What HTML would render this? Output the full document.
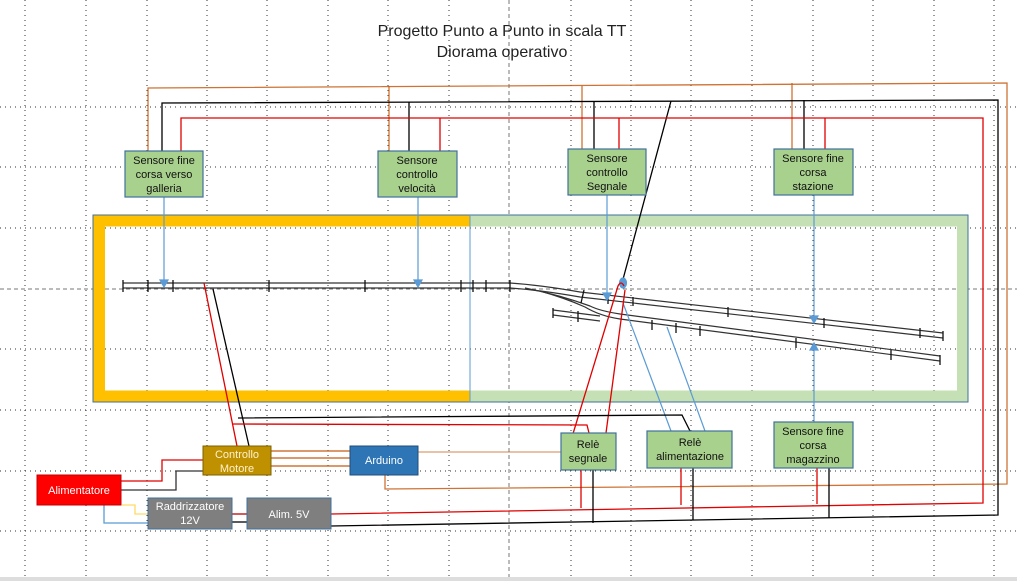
<!DOCTYPE html>
<html><head><meta charset="utf-8"><style>
html,body{margin:0;padding:0;background:#fff;}
svg{display:block;}
text{font-family:"Liberation Sans",sans-serif;}
</style></head><body>
<svg width="1017" height="581" viewBox="0 0 1017 581" xmlns="http://www.w3.org/2000/svg">
<rect width="1017" height="581" fill="#fff"/>
<!-- grid -->
<g stroke="#000" stroke-width="1" stroke-dasharray="1,4" opacity="0.8">
<line x1="25" y1="0" x2="25" y2="577"/><line x1="86" y1="0" x2="86" y2="577"/><line x1="147" y1="0" x2="147" y2="577"/><line x1="207" y1="0" x2="207" y2="577"/><line x1="267" y1="0" x2="267" y2="577"/><line x1="328" y1="0" x2="328" y2="577"/><line x1="388" y1="0" x2="388" y2="577"/><line x1="449" y1="0" x2="449" y2="577"/><line x1="571" y1="0" x2="571" y2="577"/><line x1="631" y1="0" x2="631" y2="577"/><line x1="691" y1="0" x2="691" y2="577"/><line x1="752" y1="0" x2="752" y2="577"/><line x1="813" y1="0" x2="813" y2="577"/><line x1="873" y1="0" x2="873" y2="577"/><line x1="934" y1="0" x2="934" y2="577"/><line x1="994" y1="0" x2="994" y2="577"/>
<line x1="0" y1="107" x2="1017" y2="107"/><line x1="0" y1="167" x2="1017" y2="167"/><line x1="0" y1="228" x2="1017" y2="228"/><line x1="0" y1="349" x2="1017" y2="349"/><line x1="0" y1="410" x2="1017" y2="410"/><line x1="0" y1="471" x2="1017" y2="471"/><line x1="0" y1="531" x2="1017" y2="531"/>
</g>
<g stroke="#777" stroke-width="1" stroke-dasharray="4,3">
<line x1="0" y1="289" x2="1017" y2="289"/><line x1="509" y1="0" x2="509" y2="577"/>
</g>
<rect x="0" y="577" width="1017" height="4" fill="#ddd"/>
<text x="502" y="36" font-size="16" text-anchor="middle" fill="#222">Progetto Punto a Punto in scala TT</text>
<text x="502" y="57" font-size="16" text-anchor="middle" fill="#222">Diorama operativo</text>

<!-- diorama frame -->
<rect x="470" y="215" width="498" height="187" fill="none" stroke="#41719C" stroke-width="1"/>
<rect x="93" y="215" width="377" height="187" fill="none" stroke="#41719C" stroke-width="1"/>
<path d="M470,215.5 H967.5 V401.5 H470 V390.5 H957 V226.5 H470Z" fill="#C5E0B4"/>
<path d="M93.5,215.5 H470 V226.5 H105 V390.5 H470 V401.5 H93.5Z" fill="#FFC000"/>
<rect x="93" y="215" width="875" height="187" fill="none" stroke="#41719C" stroke-width="1"/>
<line x1="470" y1="215" x2="470" y2="402" stroke="#5B9BD5" stroke-width="1"/>

<!-- top wires -->
<g fill="none" stroke-width="1.3">
<path d="M148,151 V88 L1007,83 V484 L385,489 V475" stroke="#C55A11" opacity="0.85"/>
<path d="M389,151 V86 M582,149 V86 M792,149 V83" stroke="#C55A11" opacity="0.85"/>
<path d="M162,151 V103 L998,100 V515 L331,526" stroke="#000"/>
<path d="M409,151 V102 M594,149 V101 M804,149 V100 M671,101 L622,283" stroke="#000"/>
<path d="M181,151 V118 H983 V503 L331,514" stroke="#E00000"/>
<path d="M440,151 V118 M619,149 V118 M825,149 V118" stroke="#E00000"/>
</g>

<!-- tracks -->
<g fill="none" stroke="#333" stroke-width="1.2">
<path d="M123,283 H510 Q540,285 580,292 L943,333"/>
<path d="M123,288 H510 Q540,290 580,297 L943,338"/>
<path d="M525,288 Q560,295 590,306 Q600,311 620,314 L940,356"/>
<path d="M540,291 Q565,298 585,307 Q600,316 620,319 L940,361"/>
<path d="M553,310 L600,316"/><path d="M553,315 L600,321"/>
</g>
<g stroke="#111" stroke-width="1.3">
<line x1="123" y1="280" x2="123" y2="292"/><line x1="148" y1="280" x2="148" y2="292"/><line x1="173" y1="280" x2="173" y2="292"/><line x1="269" y1="280" x2="269" y2="292"/><line x1="365" y1="280" x2="365" y2="292"/><line x1="461" y1="280" x2="461" y2="292"/><line x1="473" y1="280" x2="473" y2="292"/><line x1="486" y1="280" x2="486" y2="292"/><line x1="510" y1="280" x2="510" y2="292"/>
<line x1="584" y1="290" x2="581" y2="303"/><line x1="608" y1="294" x2="608" y2="304"/><line x1="633" y1="297" x2="633" y2="306"/><line x1="728" y1="307" x2="728" y2="317"/><line x1="824" y1="318" x2="824" y2="328"/><line x1="920" y1="328" x2="920" y2="338"/><line x1="943" y1="331" x2="943" y2="341"/>
<line x1="553" y1="308" x2="553" y2="318"/><line x1="578" y1="311" x2="578" y2="322"/><line x1="652" y1="320" x2="652" y2="330"/><line x1="676" y1="323" x2="676" y2="333"/><line x1="700" y1="326" x2="700" y2="336"/><line x1="796" y1="338" x2="796" y2="348"/><line x1="891" y1="350" x2="891" y2="360"/><line x1="940" y1="355" x2="940" y2="365"/>
</g>

<!-- blue sensor lines -->
<g stroke="#5B9BD5" stroke-width="1.2" fill="#5B9BD5">
<line x1="164" y1="197" x2="164" y2="282"/><path d="M160,280 L168,280 L164,287Z"/>
<line x1="418" y1="197" x2="418" y2="282"/><path d="M414,280 L422,280 L418,287Z"/>
<line x1="607" y1="195" x2="607" y2="295"/><path d="M603,293 L611,293 L607,300Z"/>
<line x1="814" y1="195" x2="814" y2="317"/><path d="M810,316 L818,316 L814,323Z"/>
<line x1="814" y1="422" x2="814" y2="348"/><path d="M810,350 L818,350 L814,343Z"/>
<line x1="671" y1="431" x2="623" y2="303"/><line x1="705" y1="431" x2="667" y2="327"/>
<ellipse cx="623" cy="283" rx="3.5" ry="5"/>
</g>
<g stroke="#E00000" stroke-width="1.3" fill="none">
<path d="M572,437 L618,286 Q621,280 624,286"/><path d="M606,433 L625,290"/>
</g>

<!-- lower wires -->
<g fill="none" stroke-width="1.3">
<path d="M237,446 L204,283" stroke="#E00000"/>
<path d="M249,446 L213,289" stroke="#000"/>
<path d="M238,418 L682,415 L690,431" stroke="#000"/>
<path d="M232,424 L587,425 L589,433" stroke="#E00000"/>
<path d="M271,451 H350 M271,458 H350 M271,466 H350" stroke="#C55A11"/>
<path d="M418,452 H561" stroke="#C55A11" opacity="0.6"/>
<path d="M121,481 H162 V460 H203" stroke="#E00000"/>
<path d="M121,490 H176 V471 H203" stroke="#333"/>
<path d="M122,505 H135 V514 H148" stroke="#FFD966"/>
<path d="M104,505 V523 H148" stroke="#5B9BD5"/>
<path d="M232,514 H247" stroke="#C00000"/><path d="M232,522 H247" stroke="#000"/>
<path d="M581,470 V508 M681,468 V505 M817,468 V504" stroke="#E00000"/>
<path d="M593,470 V523 M693,466 V520 M829,466 V518" stroke="#000"/>
</g>

<!-- boxes -->
<g stroke="#41719C" stroke-width="1.2" fill="#A9D18E">
<rect x="125" y="151" width="78" height="46"/>
<rect x="378" y="151" width="79" height="46"/>
<rect x="568" y="149" width="78" height="46"/>
<rect x="774" y="149" width="79" height="46"/>
<rect x="561" y="433" width="55" height="37"/>
<rect x="647" y="431" width="85" height="37"/>
<rect x="774" y="422" width="79" height="46"/>
</g>
<rect x="203" y="446" width="68" height="29" fill="#BF9000" stroke="#7F6000"/>
<rect x="350" y="446" width="68" height="29" fill="#2E75B6" stroke="#1F4E79"/>
<rect x="37" y="475" width="84" height="30" fill="#FF0000" stroke="#C00000"/>
<rect x="148" y="498" width="84" height="31" fill="#7F7F7F" stroke="#41719C"/>
<rect x="247" y="498" width="84" height="31" fill="#7F7F7F" stroke="#41719C"/>

<g font-size="11" text-anchor="middle" fill="#111">
<text x="164" y="164">Sensore fine</text><text x="164" y="178">corsa verso</text><text x="164" y="192">galleria</text>
<text x="417" y="164">Sensore</text><text x="417" y="178">controllo</text><text x="417" y="192">velocità</text>
<text x="607" y="162">Sensore</text><text x="607" y="176">controllo</text><text x="607" y="190">Segnale</text>
<text x="813" y="162">Sensore fine</text><text x="813" y="176">corsa</text><text x="813" y="190">stazione</text>
<text x="588" y="448">Relè</text><text x="588" y="462">segnale</text>
<text x="690" y="446">Relè</text><text x="690" y="460">alimentazione</text>
<text x="813" y="435">Sensore fine</text><text x="813" y="449">corsa</text><text x="813" y="463">magazzino</text>
</g>
<g font-size="11" text-anchor="middle" fill="#fff">
<text x="237" y="458" fill="#FFF2CC">Controllo</text><text x="237" y="472" fill="#FFF2CC">Motore</text>
<text x="384" y="464">Arduino</text>
<text x="79" y="494">Alimentatore</text>
<text x="190" y="510">Raddrizzatore</text><text x="190" y="524">12V</text>
<text x="289" y="518">Alim. 5V</text>
</g>
</svg>
</body></html>
